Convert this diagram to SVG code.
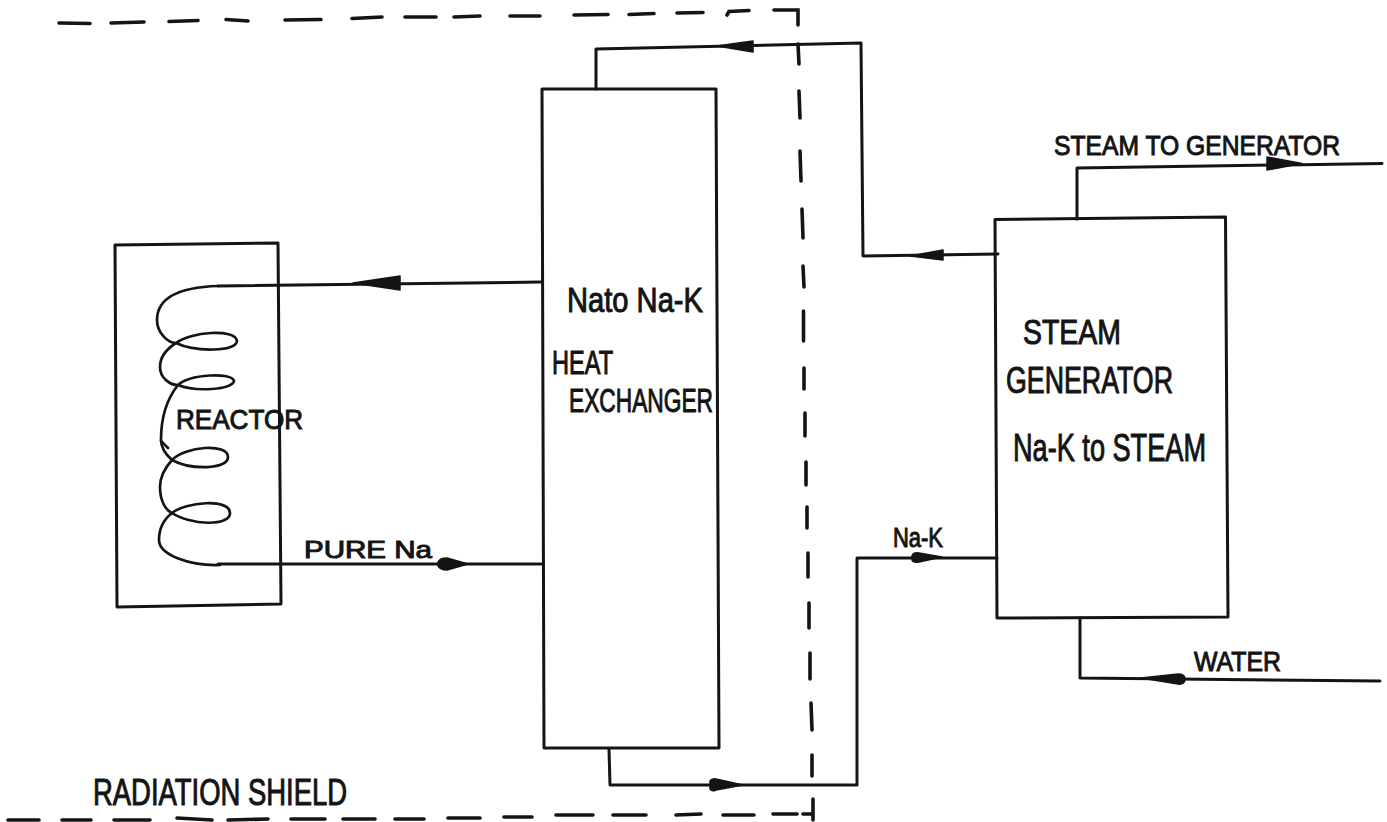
<svg xmlns="http://www.w3.org/2000/svg" width="1387" height="822" viewBox="0 0 1387 822">
<style>
.line{fill:none;stroke:#141414;stroke-width:3;stroke-linecap:round;stroke-linejoin:round}
.coil{fill:none;stroke:#141414;stroke-width:2.7;stroke-linecap:round;stroke-linejoin:round}
.dash{fill:none;stroke:#141414;stroke-width:3.6;stroke-linecap:round}
.head{fill:#141414;stroke:#141414;stroke-width:1.5;stroke-linejoin:round}
.t{font-family:"Liberation Sans",Arial,sans-serif;fill:#141414;stroke:#141414;stroke-width:1}
</style>
<rect width="1387" height="822" fill="#ffffff"/>
<g id="radiation-shield">
<path class="dash" d="M59,23L90,23.500M111,23L144,22M169,21.500L198,20.500M226,19.500L248,21M285,20L321,19.500M352,18.500L382,17M405,17L436,17M454,17L480,16M510,16L540,16M574,15L608,14.500M629,14.500L654,13.500M677,13L703,12.500M727,15L729,11.500L749,10.500M774,10L798,10L798,25M798,44L799,64M799,91L800,118M800,151L801,181M802,209L803,238M803,266L804,287M803.500,311L803.500,341M804,368L804,389M805,413L805,436M806,462L806,485M807,507L807,528M808,553L808,577M809,603L809,628M810,653L810,679M811,703L812,730M812,755L812,776M813,799L813,820M8,820L39,820M62,820L91,820M114,820L150,820M177,818L212,820M228,820L268,819M291,819L325,819M343,819L375,819M395,819L424,819M448,818L480,818M504,817L532,817M556,815L593,815M613,815L646,815M676,815L701,814M723,815L754,815M773,814L797,814M803,814L813,814"/>
<text class="t" x="93" y="805" font-size="36" textLength="254" lengthAdjust="spacingAndGlyphs">RADIATION SHIELD</text>
</g>
<g id="connectors">
<path class="line" d="M541,282L218,286"/>
<path class="head" d="M353,283L400,276L400,290Z"/>
<path class="line" d="M218,564L541,564"/>
<path class="head" d="M438,562Q440,558 447,558L468,564L447,570Q440,570 438,566Z"/>
<path class="line" d="M596,89L596,49L861,43L863,256L998,254"/>
<path class="head" d="M717,46L753,41L753,52Z"/>
<path class="head" d="M910,256L943,250L943,260Z"/>
<path class="line" d="M609,749L610,785L857,785L857,558L997,558"/>
<path class="head" d="M710,781Q712,778 716,779L743,785L716,790Q712,792 710,789Z"/>
<path class="head" d="M912,556Q913,552 919,553L942,557L919,562Q913,563 912,560Z"/>
<path class="line" d="M1077,219L1077,168L1382,163.500"/>
<path class="head" d="M1267,157L1302,163.500L1267,170Z"/>
<path class="line" d="M1080,618L1080,678L1380,681"/>
<path class="head" d="M1141,678L1178,674Q1185,674 1185,679Q1185,685 1178,684Z"/>
<text class="t" x="304" y="558" font-size="24" textLength="128" lengthAdjust="spacingAndGlyphs">PURE Na</text>
<text class="t" x="893" y="547" font-size="27" textLength="50" lengthAdjust="spacingAndGlyphs">Na-K</text>
<text class="t" x="1054" y="155" font-size="28" textLength="286" lengthAdjust="spacingAndGlyphs">STEAM TO GENERATOR</text>
<text class="t" x="1194" y="671" font-size="28" textLength="87" lengthAdjust="spacingAndGlyphs">WATER</text>
</g>
<g id="reactor">
<path class="line" d="M115,245L278,243L281,604L117,607Z"/>
<path class="coil" d="M218,286C185,287 157,295 157,320C157,333 168,343 176,343C190,332 235,328 237,341C236,352 195,352 176,343C165,350 160,358 160,367C160,378 170,385 178,385C190,374 232,372 234,381C232,390 195,392 178,385C166,400 161,420 161,440C161,445 163,452 172,460C185,446 228,443 228,457C228,470 190,470 172,460C163,470 160,480 160,487C160,500 165,510 172,513C185,502 230,498 230,513C230,527 190,525 172,513C163,520 159,530 159,540C159,555 190,566 220,565"/>
<path class="coil" d="M161,441L168,448"/>
<text class="t" x="176" y="429" font-size="28" textLength="127" lengthAdjust="spacingAndGlyphs">REACTOR</text>
</g>
<g id="heat-exchanger">
<path class="line" d="M542,89L716,89L719,748L544,748Z"/>
<text class="t" x="567" y="312" font-size="35" textLength="136" lengthAdjust="spacingAndGlyphs">Nato Na-K</text>
<text class="t" x="552" y="374" font-size="34" textLength="61" lengthAdjust="spacingAndGlyphs">HEAT</text>
<text class="t" x="569" y="412" font-size="34" textLength="144" lengthAdjust="spacingAndGlyphs">EXCHANGER</text>
</g>
<g id="steam-generator">
<path class="line" d="M995,219.500L1225.500,217L1228,617L997,618Z"/>
<text class="t" x="1023" y="344" font-size="35" textLength="98" lengthAdjust="spacingAndGlyphs">STEAM</text>
<text class="t" x="1006" y="393" font-size="37" textLength="167" lengthAdjust="spacingAndGlyphs">GENERATOR</text>
<text class="t" x="1013" y="461" font-size="38" textLength="193" lengthAdjust="spacingAndGlyphs">Na-K to STEAM</text>
</g>
</svg>
